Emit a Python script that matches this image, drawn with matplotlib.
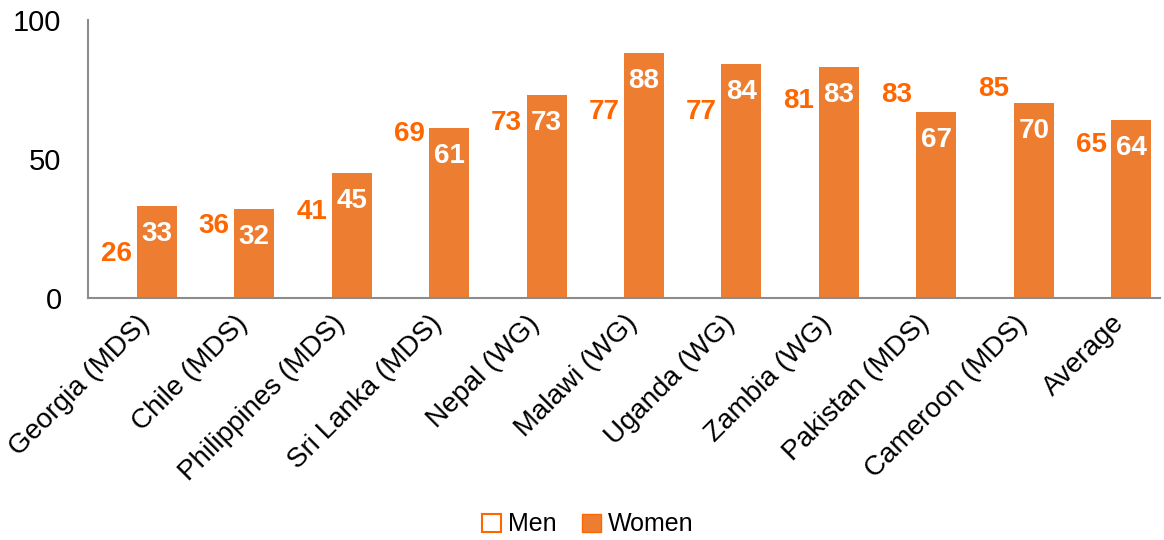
import matplotlib.pyplot as plt
import numpy as np
from matplotlib.patches import Patch

plt.rcParams['font.family'] = ['Liberation Sans', 'DejaVu Sans']

countries = ['Georgia (MDS)', 'Chile (MDS)', 'Philippines (MDS)', 'Sri Lanka (MDS)',
             'Nepal (WG)', 'Malawi (WG)', 'Uganda (WG)', 'Zambia (WG)',
             'Pakistan (MDS)', 'Cameroon (MDS)', 'Average']
men = [26, 36, 41, 69, 73, 77, 77, 81, 83, 85, 65]
women = [33, 32, 45, 61, 73, 88, 84, 83, 67, 70, 64]

bar_color = '#ED7D31'
men_text = '#FF6600'
axis_gray = '#8C8C8C'

fig = plt.figure(figsize=(11.64, 5.4), dpi=100)
ax = fig.add_axes([0.0756, 0.4481, 0.921, 0.5149])

x = np.arange(len(countries))
w = 0.41

# men bars are drawn blank, only their values are shown
men_bars = ax.bar(x - w / 2, men, w, color='white', edgecolor='none')
women_bars = ax.bar(x + w / 2, women, w, color=bar_color, edgecolor='none')

for rect, v in zip(men_bars, men):
    ax.annotate(str(v), (rect.get_x() + rect.get_width() / 2, v),
                xytext=(0, -20), textcoords='offset points',
                ha='center', va='center', fontsize=20, fontweight='bold', color=men_text)
for rect, v in zip(women_bars, women):
    ax.annotate(str(v), (rect.get_x() + rect.get_width() / 2, v),
                xytext=(0, -20), textcoords='offset points',
                ha='center', va='center', fontsize=20, fontweight='bold', color='white')

ax.set_xlim(-0.5, len(countries) - 0.5)
ax.set_ylim(0, 100)
ax.set_yticks([0, 50, 100])
ax.tick_params(axis='y', length=0, labelsize=21, pad=19)
ax.tick_params(axis='x', length=0, pad=9)
ax.set_xticks(x)
ax.set_xticklabels(countries, rotation=45, ha='right', rotation_mode='anchor', fontsize=20)

for side in ['top', 'right']:
    ax.spines[side].set_visible(False)
for side in ['left', 'bottom']:
    ax.spines[side].set_color(axis_gray)
    ax.spines[side].set_linewidth(1.5)

handles = [Patch(facecolor='white', edgecolor=men_text, linewidth=1.5),
           Patch(facecolor=bar_color, edgecolor=men_text, linewidth=1.0)]
fig.legend(handles, ['Men', 'Women'], loc='lower center', bbox_to_anchor=(0.505, -0.035),
           ncol=2, frameon=False, fontsize=18, handlelength=0.75, handleheight=0.75,
           handletextpad=0.3, columnspacing=1.0)

fig.savefig('out.png', dpi=100)
plt.close(fig)
